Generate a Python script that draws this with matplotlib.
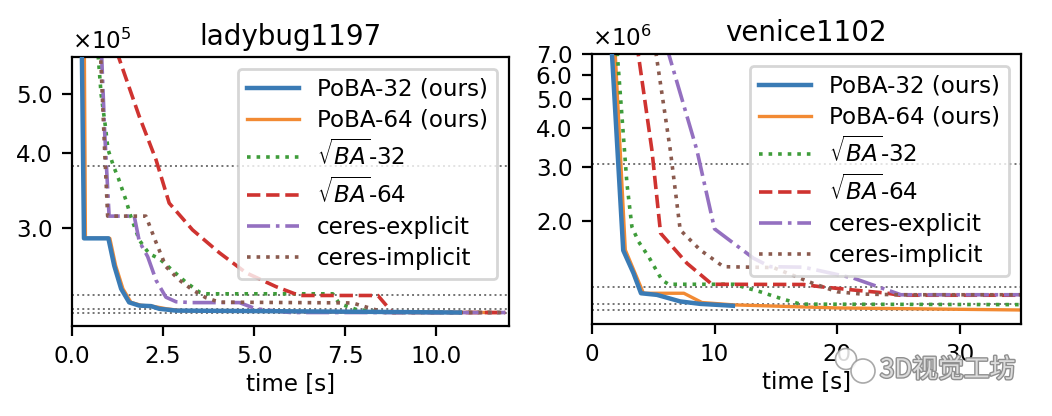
import numpy as np
import matplotlib
matplotlib.use("Agg")
import matplotlib.pyplot as plt
from matplotlib.ticker import ScalarFormatter, FixedLocator, NullLocator
from matplotlib.patches import Ellipse
import matplotlib.patheffects as pe

# ---------------- data: ladybug1197 (cost in units of 1e5) ----------------
lady_scale = 1e5
lady_poba32_t = [0.27, 0.33, 1.00, 1.16, 1.35, 1.57, 1.85, 2.17, 2.40, 2.86, 5.15, 8.0, 10.65]
lady_poba32_y = [6.0, 2.885, 2.885, 2.60, 2.38, 2.26, 2.232, 2.228, 2.205, 2.19, 2.186, 2.18, 2.174]
lady_poba64_t = [0.34, 0.37, 1.04, 1.20, 1.40, 1.62, 1.90, 2.25, 2.60, 3.0, 5.0, 8.0, 11.6]
lady_poba64_y = [6.0, 2.885, 2.885, 2.60, 2.38, 2.26, 2.235, 2.225, 2.205, 2.19, 2.185, 2.178, 2.174]
lady_sba32_t = [0.70, 0.80, 0.92, 0.99, 1.14, 1.28, 1.48, 1.62, 1.85, 2.12, 2.40, 2.76, 3.13, 3.50, 3.65, 7.16, 7.34, 7.8, 8.5, 11.9]
lady_sba32_y = [6.0, 5.0, 4.41, 4.05, 3.80, 3.62, 3.34, 3.13, 2.865, 2.72, 2.67, 2.553, 2.44, 2.35, 2.335, 2.335, 2.25, 2.20, 2.178, 2.174]
lady_sba64_t = [1.22, 1.85, 2.31, 2.67, 3.31, 4.05, 4.78, 5.6, 6.24, 8.4, 8.8, 11.9]
lady_sba64_y = [5.9, 4.59, 3.89, 3.30, 2.98, 2.73, 2.53, 2.40, 2.32, 2.32, 2.174, 2.174]
lady_cexp_t = [0.81, 0.90, 1.02, 1.71, 1.85, 2.08, 2.31, 2.58, 2.86, 3.31, 4.6, 5.05, 6.0, 11.9]
lady_cexp_y = [5.9, 4.3, 3.14, 3.14, 2.85, 2.69, 2.458, 2.305, 2.265, 2.258, 2.258, 2.205, 2.174, 2.174]
lady_cimp_t = [0.78, 0.90, 0.98, 2.03, 2.31, 2.58, 2.95, 3.31, 3.68, 4.05, 7.7, 8.08, 8.6, 11.9]
lady_cimp_y = [5.9, 4.0, 3.14, 3.14, 2.84, 2.59, 2.46, 2.37, 2.30, 2.262, 2.255, 2.22, 2.174, 2.174]
lady_hlines = [3.805, 2.32, 2.206, 2.174]
lady_yticks = [3.0, 4.0, 5.0]
lady_xticks = [0.0, 2.5, 5.0, 7.5, 10.0]
lady_ylim = (2.065, 5.76)
lady_xlim = (0, 12)

# ---------------- data: venice1102 (cost in units of 1e6) ----------------
ven_scale = 1e6
ven_poba32_t = [1.58, 2.55, 3.39, 4.0, 5.3, 7.2, 8.83, 11.5]
ven_poba32_y = [7.6, 1.60, 1.347, 1.159, 1.145, 1.09, 1.07, 1.055]
ven_poba64_t = [1.855, 2.72, 4.2, 7.5, 8.97, 11.55, 20, 35]
ven_poba64_y = [7.6, 1.605, 1.159, 1.159, 1.081, 1.062, 1.038, 1.022]
ven_sba32_t = [2.0, 2.45, 2.85, 3.26, 3.8, 4.62, 5.71, 6.25, 11.55, 13.73, 15.36, 17.0, 35]
ven_sba32_y = [7.6, 4.37, 2.65, 1.91, 1.708, 1.526, 1.28, 1.24, 1.24, 1.172, 1.116, 1.068, 1.064]
ven_sba64_t = [3.65, 4.89, 5.6, 7.75, 9.79, 17.26, 18.6, 21.3, 24.06, 25.1, 35]
ven_sba64_y = [7.6, 3.40, 1.82, 1.452, 1.24, 1.238, 1.218, 1.188, 1.16, 1.142, 1.142]
ven_cexp_t = [6.0, 8.56, 10.0, 11.55, 13.18, 14.54, 17.26, 21.3, 25.2, 35]
ven_cexp_y = [7.6, 3.40, 1.88, 1.688, 1.508, 1.415, 1.41, 1.30, 1.146, 1.146]
ven_cimp_t = [5.1, 6.39, 7.2, 8.83, 10.73, 14.8, 18.0, 20.0, 22.0, 25.0, 35]
ven_cimp_y = [7.6, 3.40, 1.865, 1.605, 1.415, 1.406, 1.25, 1.172, 1.152, 1.146, 1.146]
ven_hlines = [3.06, 1.213, 1.066, 1.022]
ven_yticks = [2.0, 3.0, 4.0, 5.0, 6.0, 7.0]
ven_xticks = [0, 10, 20, 30]
ven_ylim = (0.92, 7.0)
ven_xlim = (0, 35)

labels = ["PoBA-32 (ours)", "PoBA-64 (ours)", r"$\sqrt{BA}$-32", r"$\sqrt{BA}$-64",
          "ceres-explicit", "ceres-implicit"]
colors = ["#3a7bb5", "#f28a33", "#3e9c3a", "#cf3330", "#9470c0", "#8a5a4e"]
styles = ["-", "-", ":", "--", "-.", ":"]
widths = [1.6, 1.2, 1.3, 1.3, 1.3, 1.3]
zorders = [3, 2, 2, 2, 2, 2]

plt.rcParams["font.family"] = "DejaVu Sans"
plt.rcParams["font.size"] = 8.3


class OneDecimal(ScalarFormatter):
    def _set_format(self):
        self.format = "%1.1f"


fig = plt.figure(figsize=(5.26, 2.08), dpi=200)
ax1 = fig.add_axes([0.0684, 0.2163, 0.4154, 0.6466])
ax2 = fig.add_axes([0.5627, 0.2212, 0.4078, 0.6490])

panels = [
    (ax1, "ladybug1197", lady_scale,
     [(lady_poba32_t, lady_poba32_y), (lady_poba64_t, lady_poba64_y), (lady_sba32_t, lady_sba32_y),
      (lady_sba64_t, lady_sba64_y), (lady_cexp_t, lady_cexp_y), (lady_cimp_t, lady_cimp_y)],
     lady_hlines, lady_yticks, lady_xticks, lady_ylim, lady_xlim),
    (ax2, "venice1102", ven_scale,
     [(ven_poba32_t, ven_poba32_y), (ven_poba64_t, ven_poba64_y), (ven_sba32_t, ven_sba32_y),
      (ven_sba64_t, ven_sba64_y), (ven_cexp_t, ven_cexp_y), (ven_cimp_t, ven_cimp_y)],
     ven_hlines, ven_yticks, ven_xticks, ven_ylim, ven_xlim),
]

for ax, title, scale, series, hl, yt, xt, yl, xl in panels:
    for h in hl:
        ax.axhline(h * scale, color="0.45", ls=":", lw=0.7, zorder=1)
    for (t, y), lab, c, s, w, z in zip(series, labels, colors, styles, widths, zorders):
        ax.plot(t, np.asarray(y) * scale, color=c, ls=s, lw=w, label=lab, zorder=z)
    ax.set_yscale("log")
    ax.yaxis.set_major_locator(FixedLocator([v * scale for v in yt]))
    ax.yaxis.set_minor_locator(NullLocator())
    fmt = OneDecimal(useMathText=True, useOffset=False)
    fmt.set_powerlimits((-3, 3))
    ax.yaxis.set_major_formatter(fmt)
    ax.set_ylim(yl[0] * scale, yl[1] * scale)
    ax.set_xlim(*xl)
    ax.set_xticks(xt)
    ax.set_xlabel("time [s]", labelpad=1.5)
    ax.set_title(title, fontsize=10, pad=4.5)
    leg = ax.legend(loc="upper right", labelspacing=0.34, fontsize=8.3, handlelength=2.25)
    leg.set_zorder(5)

# watermark
wm = fig.text(0.8365, 0.111, "3D视觉工坊", fontsize=9.3, color="#dcdcdc",
              family=["Noto Sans CJK SC", "DejaVu Sans"], va="center", ha="left",
              path_effects=[pe.Stroke(linewidth=1.0, foreground="#8f8f8f"), pe.Normal()])
for cx, cy, r in [(846, 359, 10.5), (863, 371, 12)]:
    e = Ellipse((cx / 1052, 1 - cy / 416), 2 * r / 1052, 2 * r / 416,
                transform=fig.transFigure, facecolor="white", edgecolor="#9a9a9a",
                lw=0.6, alpha=0.85)
    fig.add_artist(e)

fig.savefig("out.png", dpi=200)
